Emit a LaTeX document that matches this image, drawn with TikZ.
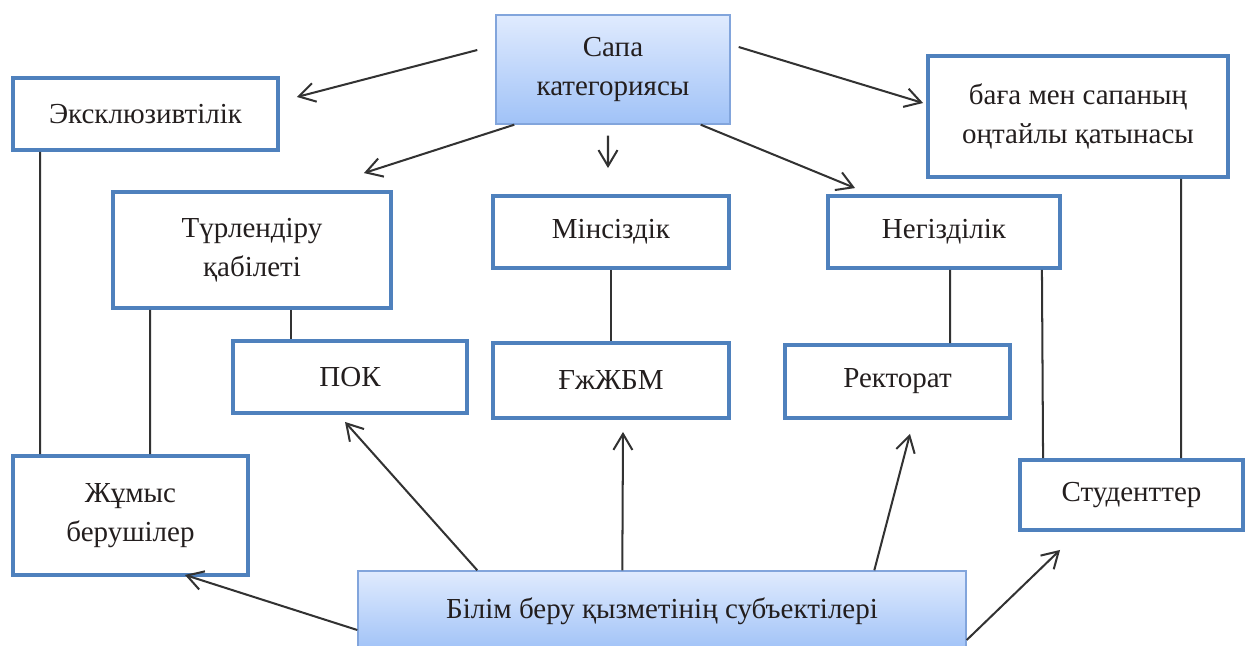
\documentclass[tikz,border=0pt]{standalone}
\usepackage{fontspec}
\setmainfont{Liberation Serif}
\usetikzlibrary{arrows.meta}
\definecolor{boxblue}{RGB}{79,129,189}
\definecolor{shadeedge}{RGB}{130,165,220}
\definecolor{linkgray}{RGB}{50,50,50}
\definecolor{inkgray}{RGB}{35,30,30}
\tikzset{>={Straight Barb[length=3.2mm,width=3.8mm]},
  plainbox/.style={draw=boxblue, line width=2.2pt, fill=white, inner sep=0pt,
    align=center, text=inkgray, font=\fontsize{16.5}{22}\selectfont},
  shadebox/.style={plainbox, draw=shadeedge, line width=0.8pt,
    top color={rgb,255:red,224;green,235;blue,254},
    bottom color={rgb,255:red,160;green,194;blue,247}},
  link/.style={draw=linkgray, line width=1.15pt}}

\begin{document}
\begin{tikzpicture}[x=1cm, y=1cm]
    \useasboundingbox (0,0) rectangle (24.94,-12.9);
    % boxes
    \node[shadebox, minimum width=4.68cm, minimum height=2.18cm] (sapa) at (12.26,-1.39) {Сапа\\категориясы};
    \node[plainbox, minimum width=5.3cm, minimum height=1.44cm] (exkl) at (2.91,-2.28) {Эксклюзивтілік};
    \node[plainbox, minimum width=6cm, minimum height=2.42cm] (baga) at (21.56,-2.33) {баға мен сапаның\\оңтайлы қатынасы};
    \node[plainbox, minimum width=5.56cm, minimum height=2.32cm] (turl) at (5.04,-5) {Түрлендіру\\қабілеті};
    \node[plainbox, minimum width=4.72cm, minimum height=1.44cm] (mins) at (12.22,-4.64) {Мінсіздік};
    \node[plainbox, minimum width=4.64cm, minimum height=1.44cm] (negiz) at (18.88,-4.64) {Негізділік};
    \node[plainbox, minimum width=4.68cm, minimum height=1.44cm] (pok) at (7,-7.54) {ПОК};
    \node[plainbox, minimum width=4.72cm, minimum height=1.5cm] (gzh) at (12.22,-7.61) {ҒжЖБМ};
    \node[plainbox, minimum width=4.5cm, minimum height=1.46cm] (rekt) at (17.95,-7.63) {Ректорат};
    \node[plainbox, minimum width=4.7cm, minimum height=2.38cm] (zhum) at (2.61,-10.31) {Жұмыс\\берушілер};
    \node[plainbox, minimum width=4.46cm, minimum height=1.4cm] (stud) at (22.63,-9.9) {Студенттер};
    \node[shadebox, minimum width=12.16cm, minimum height=1.6cm] (bilim) at (13.24,-12.22) {Білім беру қызметінің субъектілері};
    % arrows from the top box
    \draw[link, ->] ([xshift=-0.36cm, yshift=0.39cm]sapa.west) -- ([xshift=0.34cm, yshift=0.34cm]exkl.east);
    \draw[link, ->] ([xshift=0.16cm, yshift=0.45cm]sapa.east) -- ([xshift=-0.06cm, yshift=0.27cm]baga.west);
    \draw[link, ->] ([xshift=0.38cm]sapa.south west) -- ([xshift=-0.58cm, yshift=0.34cm]turl.north east);
    \draw[link, ->] ([xshift=-0.1cm, yshift=-0.22cm]sapa.south) -- ([xshift=-0.06cm, yshift=0.52cm]mins.north);
    \draw[link, ->] ([xshift=-0.6cm]sapa.south east) -- ([xshift=0.58cm, yshift=0.12cm]negiz.north west);
    % plain links
    \draw[link] ([xshift=0.58cm]exkl.south west) -- ([xshift=0.58cm]zhum.north west);
    \draw[link] ([xshift=0.78cm]turl.south west) -- ([xshift=2.78cm]zhum.north west);
    \draw[link] ([xshift=3.6cm]turl.south west) -- ([xshift=1.2cm]pok.north west);
    \draw[link] (mins.south) -- (gzh.north);
    \draw[link] ([xshift=2.48cm]negiz.south west) -- ([xshift=3.34cm]rekt.north west);
    \draw[link] ([xshift=-0.4cm]negiz.south east) -- ([xshift=0.5cm]stud.north west);
    \draw[link] ([xshift=5.1cm]baga.south west) -- ([xshift=3.26cm]stud.north west);
    % arrows from the bottom box
    \draw[link, ->] ([xshift=2.4cm]bilim.north west) -- ([xshift=-0.1cm, yshift=-0.14cm]pok.south);
    \draw[link, ->] ([xshift=5.3cm]bilim.north west) -- ([xshift=0.24cm, yshift=-0.24cm]gzh.south);
    \draw[link, ->] ([xshift=10.34cm]bilim.north west) -- ([xshift=0.25cm, yshift=-0.28cm]rekt.south);
    \draw[link, ->] ([yshift=-0.38cm]bilim.west) -- ([xshift=-1.3cm, yshift=0.04cm]zhum.south east);
    \draw[link, ->] ([yshift=-0.58cm]bilim.east) -- ([xshift=0.84cm, yshift=-0.36cm]stud.south west);
\end{tikzpicture}
\end{document}
